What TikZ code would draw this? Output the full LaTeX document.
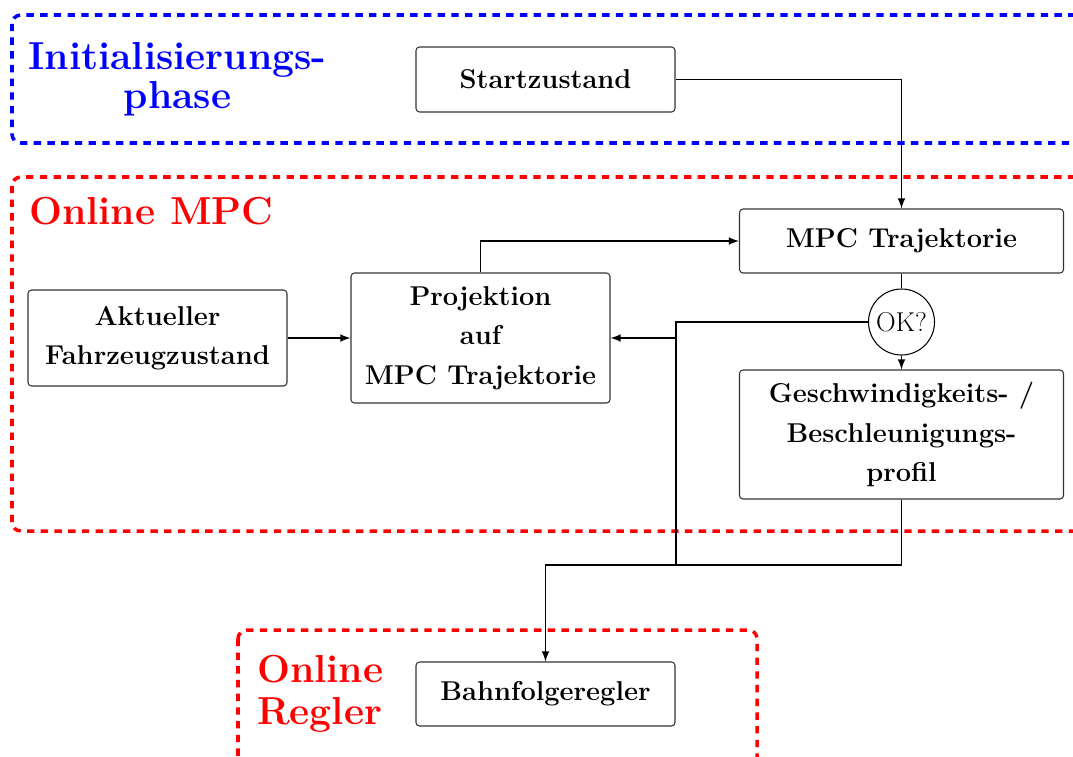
\documentclass[tikz,border=0pt]{standalone}
\usepackage{amsmath}
\usepackage[dvipsnames]{xcolor}
\usetikzlibrary{
  arrows,
  shapes,
  positioning
}

\begin{document}
\begin{tikzpicture}[
    block/.style={draw=black!80, line width=0.6pt, rounded corners=2pt, inner sep=0pt, align=center,
      font=\fontsize{15.5}{22.5}\selectfont\bfseries},
    phasebox/.style={line width=2pt, dash pattern=on 4.2pt off 3.6pt, rounded corners=5pt},
    phasetitle/.style={font=\fontsize{22.2}{22}\selectfont\bfseries},
    flow/.style={line width=1pt},
    >=latex
  ]
        \useasboundingbox (0,0) rectangle (21.46,-15.12);
        \clip (0,0) rectangle (21.46,-15.12);

        % phases
        \draw[phasebox, blue] (0.24,-0.30) rectangle (22.5,-2.86);
        \draw[phasebox, red] (0.24,-3.54) rectangle (22.5,-10.62);
        \draw[phasebox, red] (4.76,-12.60) rectangle (15.14,-15.6);
        \node[phasetitle, blue, align=center] (tinit) at (3.55,-1.58) {Initialisierungs-\\phase};
        \node[phasetitle, red, anchor=west] (tmpc) at (0.46,-4.22) {Online MPC};
        \node[phasetitle, red, anchor=west, align=left,
              font=\fontsize{22.2}{24}\selectfont\bfseries] (tregler) at (5.02,-13.88) {Online\\Regler};

        % blocks
        \node[block, minimum width=5.18cm, minimum height=1.30cm] (start) at (10.91,-1.59) {Startzustand};
        \node[block, minimum width=6.48cm, minimum height=1.28cm] (mpc) at (18.03,-4.82) {MPC Trajektorie};
        \node[block, minimum width=5.18cm, minimum height=1.92cm] (akt) at (3.15,-6.76) {Aktueller\\Fahrzeugzustand};
        \node[block, minimum width=5.18cm, minimum height=2.60cm] (proj) at (9.61,-6.76) {Projektion\\auf\\MPC Trajektorie};
        \node[draw, line width=0.6pt, circle, minimum size=1.32cm, inner sep=0pt,
              font=\fontsize{15.5}{18}\selectfont] (ok) at (18.03,-6.44) {OK?};
        \node[block, minimum width=6.48cm, minimum height=2.58cm] (profil) at (18.03,-8.69) {Geschwindigkeits- /\\Beschleunigungs-\\profil};
        \node[block, minimum width=5.18cm, minimum height=1.28cm] (regler) at (10.91,-13.88) {Bahnfolgeregler};

        \coordinate (split) at (13.52,-6.44);
        \coordinate (merge) at (13.52,-11.30);

        % connections
        \draw[flow, ->] (start.east) -| (mpc.north);
        \draw[flow, ->] (proj.north) |- (mpc.west);
        \draw[flow, ->] (akt.east) -- (proj.west);
        \draw[flow] (mpc.south) -- (ok.north);
        \draw[flow, ->] (ok.south) -- (profil.north);
        \draw[flow, ->] (ok.west) -- (split) |- (proj.east);
        \draw[flow] (split) -- (merge);
        \draw[flow, ->] (profil.south) |- (merge) -| (regler.north);
\end{tikzpicture}
\end{document}
